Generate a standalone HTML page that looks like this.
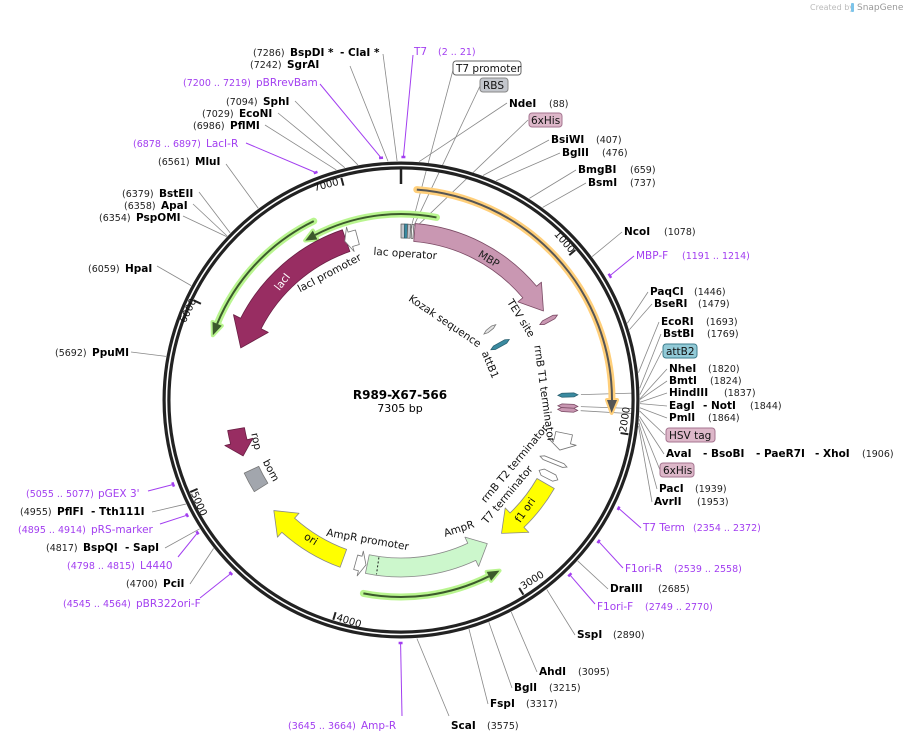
<!DOCTYPE html>
<html><head><meta charset="utf-8"><style>
html,body{margin:0;padding:0;background:#fff;}
svg{display:block;}
text{font-family:"DejaVu Sans","Liberation Sans",sans-serif;}
.b{font-weight:bold;font-size:10.5px;fill:#000;}
.n{font-size:9.5px;fill:#222;}
.p{font-size:10.5px;fill:#a23ef0;}
.pn{font-size:9.5px;fill:#a23ef0;}
.f{font-size:10.5px;fill:#111;}
.t{font-size:10px;fill:#111;}
</style></head><body>
<svg id="s" width="908" height="742" viewBox="0 0 908 742" xmlns="http://www.w3.org/2000/svg">
<g id="g"></g>
<text x="810" y="10" style="font-size:8px;fill:#bbb">Created by</text>
<rect x="851" y="3" width="3" height="9" rx="1" fill="#7cc4ea"/>
<text x="857" y="10" style="font-size:9px;fill:#999">SnapGene</text>

<text x="400" y="399" text-anchor="middle" style="font-weight:bold;font-size:12px">R989-X67-566</text>
<text x="400" y="412" text-anchor="middle" style="font-size:11px">7305 bp</text>

<text class="t" transform="translate(562,244) rotate(49)" text-anchor="middle">1000</text>
<text class="t" transform="translate(628,420) rotate(-81.5)" text-anchor="middle">2000</text>
<text class="t" transform="translate(534,583) rotate(-32)" text-anchor="middle">3000</text>
<text class="t" transform="translate(348,624) rotate(17)" text-anchor="middle">4000</text>
<text class="t" transform="translate(196,505) rotate(66)" text-anchor="middle">5000</text>
<text class="t" transform="translate(191,312) rotate(-64)" text-anchor="middle">6000</text>
<text class="t" transform="translate(327,188) rotate(-15)" text-anchor="middle">7000</text>

<text class="f" transform="translate(405,257) rotate(4)" text-anchor="middle">lac operator</text>
<text class="f" transform="translate(331,276) rotate(-28)" text-anchor="middle">lacI promoter</text>
<text class="f" transform="translate(487,262) rotate(31)" text-anchor="middle" style="fill:#222">MBP</text>
<text class="f" transform="translate(285,284) rotate(-52)" text-anchor="middle" style="fill:#fff">lacI</text>
<text class="f" transform="translate(518,320) rotate(58)" text-anchor="middle">TEV site</text>
<text class="f" transform="translate(443,324) rotate(34)" text-anchor="middle">Kozak sequence</text>
<text class="f" transform="translate(487,366) rotate(68)" text-anchor="middle">attB1</text>
<text class="f" transform="translate(541,394) rotate(82)" text-anchor="middle">rrnB T1 terminator</text>
<text class="f" transform="translate(517,466) rotate(-50)" text-anchor="middle">rrnB T2 terminator</text>
<text class="f" transform="translate(510,497) rotate(-50)" text-anchor="middle">T7 terminator</text>
<text class="f" transform="translate(528,512) rotate(-55)" text-anchor="middle">f1 ori</text>
<text class="f" transform="translate(460,532) rotate(-18)" text-anchor="middle">AmpR</text>
<text class="f" transform="translate(367,543) rotate(10)" text-anchor="middle">AmpR promoter</text>
<text class="f" transform="translate(309,542) rotate(32)" text-anchor="middle">ori</text>
<text class="f" transform="translate(253,442) rotate(78)" text-anchor="middle">rop</text>
<text class="f" transform="translate(268,472) rotate(62)" text-anchor="middle">bom</text>

<text x="414" y="55" class="p">T7</text><text x="438" y="55" class="pn">(2 .. 21)</text>
<rect x="453" y="61" width="68" height="14" rx="3" fill="#fff" stroke="#666"/>
<text x="456" y="72" class="f">T7 promoter</text>
<rect x="480" y="78" width="28" height="14" rx="3" fill="#c3c6cc" stroke="#888"/>
<text x="483" y="89" class="f">RBS</text>
<text x="509" y="107" class="b">NdeI</text><text x="549" y="107" class="n">(88)</text>
<rect x="529" y="113" width="33" height="14" rx="3" fill="#ddb7c9" stroke="#a57590"/>
<text x="531" y="124" class="f">6xHis</text>
<text x="551" y="143" class="b">BsiWI</text><text x="596" y="143" class="n">(407)</text>
<text x="562" y="156" class="b">BglII</text><text x="602" y="156" class="n">(476)</text>
<text x="578" y="173" class="b">BmgBI</text><text x="630" y="173" class="n">(659)</text>
<text x="588" y="186" class="b">BsmI</text><text x="630" y="186" class="n">(737)</text>
<text x="624" y="235" class="b">NcoI</text><text x="664" y="235" class="n">(1078)</text>
<text x="636" y="259" class="p">MBP-F</text><text x="682" y="259" class="pn">(1191 .. 1214)</text>
<text x="650" y="295" class="b">PaqCI</text><text x="694" y="295" class="n">(1446)</text>
<text x="654" y="307" class="b">BseRI</text><text x="698" y="307" class="n">(1479)</text>
<text x="661" y="325" class="b">EcoRI</text><text x="706" y="325" class="n">(1693)</text>
<text x="663" y="337" class="b">BstBI</text><text x="707" y="337" class="n">(1769)</text>
<rect x="663" y="344" width="34" height="14" rx="3" fill="#92cad7" stroke="#3d7d8d"/>
<text x="666" y="355" class="f">attB2</text>
<text x="669" y="372" class="b">NheI</text><text x="708" y="372" class="n">(1820)</text>
<text x="669" y="384" class="b">BmtI</text><text x="710" y="384" class="n">(1824)</text>
<text x="669" y="396" class="b">HindIII</text><text x="724" y="396" class="n">(1837)</text>
<text x="669" y="409" class="b">EagI</text><text x="703" y="409" class="b">- NotI</text><text x="750" y="409" class="n">(1844)</text>
<text x="669" y="421" class="b">PmlI</text><text x="708" y="421" class="n">(1864)</text>
<rect x="666" y="428" width="49" height="14" rx="3" fill="#ddb7c9" stroke="#a57590"/>
<text x="669" y="439" class="f">HSV tag</text>
<text x="666" y="457" class="b">AvaI</text><text x="703" y="457" class="b">- BsoBI</text><text x="756" y="457" class="b">- PaeR7I</text><text x="815" y="457" class="b">- XhoI</text><text x="862" y="457" class="n">(1906)</text>
<rect x="660" y="463" width="34" height="14" rx="3" fill="#ddb7c9" stroke="#a57590"/>
<text x="663" y="474" class="f">6xHis</text>
<text x="659" y="492" class="b">PacI</text><text x="695" y="492" class="n">(1939)</text>
<text x="654" y="505" class="b">AvrII</text><text x="697" y="505" class="n">(1953)</text>
<text x="643" y="531" class="p">T7 Term</text><text x="693" y="531" class="pn">(2354 .. 2372)</text>
<text x="625" y="572" class="p">F1ori-R</text><text x="674" y="572" class="pn">(2539 .. 2558)</text>
<text x="610" y="592" class="b">DraIII</text><text x="658" y="592" class="n">(2685)</text>
<text x="597" y="610" class="p">F1ori-F</text><text x="645" y="610" class="pn">(2749 .. 2770)</text>
<text x="577" y="638" class="b">SspI</text><text x="613" y="638" class="n">(2890)</text>
<text x="539" y="675" class="b">AhdI</text><text x="578" y="675" class="n">(3095)</text>
<text x="514" y="691" class="b">BglI</text><text x="549" y="691" class="n">(3215)</text>
<text x="490" y="707" class="b">FspI</text><text x="526" y="707" class="n">(3317)</text>
<text x="451" y="729" class="b">ScaI</text><text x="487" y="729" class="n">(3575)</text>
<text x="288" y="729" class="pn">(3645 .. 3664)</text><text x="361" y="729" class="p">Amp-R</text>

<text x="253" y="56" class="n">(7286)</text><text x="290" y="56" class="b">BspDI *</text><text x="340" y="56" class="b">- ClaI *</text>
<text x="250" y="68" class="n">(7242)</text><text x="287" y="68" class="b">SgrAI</text>
<text x="183" y="86" class="pn">(7200 .. 7219)</text><text x="256" y="86" class="p">pBRrevBam</text>
<text x="226" y="105" class="n">(7094)</text><text x="263" y="105" class="b">SphI</text>
<text x="202" y="117" class="n">(7029)</text><text x="239" y="117" class="b">EcoNI</text>
<text x="193" y="129" class="n">(6986)</text><text x="230" y="129" class="b">PflMI</text>
<text x="133" y="147" class="pn">(6878 .. 6897)</text><text x="206" y="147" class="p">LacI-R</text>
<text x="158" y="165" class="n">(6561)</text><text x="195" y="165" class="b">MluI</text>
<text x="122" y="197" class="n">(6379)</text><text x="159" y="197" class="b">BstEII</text>
<text x="124" y="209" class="n">(6358)</text><text x="161" y="209" class="b">ApaI</text>
<text x="99" y="221" class="n">(6354)</text><text x="136" y="221" class="b">PspOMI</text>
<text x="88" y="272" class="n">(6059)</text><text x="125" y="272" class="b">HpaI</text>
<text x="55" y="356" class="n">(5692)</text><text x="92" y="356" class="b">PpuMI</text>
<text x="26" y="497" class="pn">(5055 .. 5077)</text><text x="98" y="497" class="p">pGEX 3'</text>
<text x="20" y="515" class="n">(4955)</text><text x="57" y="515" class="b">PflFI</text><text x="91" y="515" class="b">- Tth111I</text>
<text x="18" y="533" class="pn">(4895 .. 4914)</text><text x="91" y="533" class="p">pRS-marker</text>
<text x="46" y="551" class="n">(4817)</text><text x="83" y="551" class="b">BspQI</text><text x="125" y="551" class="b">- SapI</text>
<text x="67" y="569" class="pn">(4798 .. 4815)</text><text x="140" y="569" class="p">L4440</text>
<text x="126" y="587" class="n">(4700)</text><text x="163" y="587" class="b">PciI</text>
<text x="63" y="607" class="pn">(4545 .. 4564)</text><text x="136" y="607" class="p">pBR322ori-F</text>
</svg>
<script>
(function(){
var cx=401,cy=400,NS="http://www.w3.org/2000/svg",g=document.getElementById("g");
function P(a,r){var t=a*Math.PI/180;return [cx+r*Math.sin(t),cy-r*Math.cos(t)];}
function B(b){return b/7305*360;}
function el(n,at){var e=document.createElementNS(NS,n);for(var k in at)e.setAttribute(k,at[k]);g.appendChild(e);return e;}
function arc(a1,a2,r){var p=P(a2,r),la=Math.abs(a2-a1)>180?1:0,sw=a2>a1?1:0;return "A"+r+" "+r+" 0 "+la+" "+sw+" "+p[0].toFixed(2)+" "+p[1].toFixed(2);}
function M(a,r){var p=P(a,r);return "M"+p[0].toFixed(2)+" "+p[1].toFixed(2);}
function L(a,r){var p=P(a,r);return "L"+p[0].toFixed(2)+" "+p[1].toFixed(2);}
function band(a1,a2,r1,r2,head,fill,stroke,sw){
 var d=a2>a1?1:-1,ah=a2-d*head,rm=(r1+r2)/2,hw=(r2-r1)*0.35,s;
 if(head>0){s=M(a1,r2)+arc(a1,ah,r2)+L(ah,r2+hw)+L(a2,rm)+L(ah,r1-hw)+L(ah,r1)+arc(ah,a1,r1)+"Z";}
 else{s=M(a1,r2)+arc(a1,a2,r2)+L(a2,r1)+arc(a2,a1,r1)+"Z";}
 el("path",{d:s,fill:fill,stroke:stroke||"#777","stroke-width":sw||0.8,"stroke-linejoin":"round"});}
function sliver(a,r1,r2,w,fill,stroke){
 var t=a*Math.PI/180,ux=Math.sin(t),uy=-Math.cos(t),vx=-uy,vy=ux,h=w/2;
 function pt(r,o){return (cx+r*ux+o*vx).toFixed(2)+","+(cy+r*uy+o*vy).toFixed(2);}
 var pts=[pt(r1,0),pt(r1+4,h),pt(r2-4,h),pt(r2,0),pt(r2-4,-h),pt(r1+4,-h)].join(" ");
 el("polygon",{points:pts,fill:fill,stroke:stroke||"#555","stroke-width":0.8});}
function larrow(a1,a2,r,head,glow,col){
 var d=a2>a1?1:-1,ah=a2-d*head;
 var s=M(a1,r)+arc(a1,ah,r);
 var tri=M(ah,r+5)+L(a2,r)+L(ah,r-5)+"Z";
 el("path",{d:s,fill:"none",stroke:glow,"stroke-width":7,"stroke-linecap":"round"});
 el("path",{d:tri,fill:glow,stroke:glow,"stroke-width":4,"stroke-linejoin":"round"});
 el("path",{d:s,fill:"none",stroke:col,"stroke-width":2});
 el("path",{d:tri,fill:col});}
function ln(x1,y1,x2,y2,c,w){el("line",{x1:x1,y1:y1,x2:x2,y2:y2,stroke:c,"stroke-width":w||0.8});}

var S=[[88,507,103],[407,549,140],[476,560,153],[659,576,170],[737,586,183],[1078,622,232],[1446,648,292],[1479,652,304],[1693,659,322],[1769,661,334],[1800,662,351],[1820,667,369],[1824,667,381],[1837,667,393],[1844,667,406],[1864,667,418],[1880,665,435],[1906,664,454],[1920,660,470],[1939,657,489],[1953,652,502],[2685,608,589],[2890,575,635],[3095,537,672],[3215,512,688],[3317,488,704],[3575,449,716],
[4700,190,584],[4817,165,548],[4955,152,512],[5692,131,352],[6059,157,266],[6354,183,216],[6358,193,204],[6379,199,192],[6561,226,164],[6986,265,125],[7029,278,113],[7094,295,101],[7242,350,66],[7286,383,54]];
S.forEach(function(s){var p=P(B(s[0]),239);ln(p[0],p[1],s[1],s[2],"#888",0.8);});
[[ -0.2,453,70,165],[0.6,480,86,170],[1.5,528,120,172]].forEach(function(s){var p=P(s[0]+3,s[3]);ln(p[0],p[1],s[1],s[2],"#888",0.8);});
[88.3,92.1,93.4].forEach(function(a){var p1=P(a,180),p2=P(a,232);ln(p1[0],p1[1],p2[0],p2[1],"#888",0.8);});
var Pr=[[2,21,413,55],[1191,1214,634,256],[2354,2372,641,528],[2539,2558,623,568],[2749,2770,595,604],[3645,3664,402,716],[4545,4564,200,598],[4798,4815,178,557],[4895,4914,160,524],[5055,5077,148,491],[6878,6897,246,143],[7200,7219,320,84]];
Pr.forEach(function(s){var a1=B(s[0]),a2=B(s[1]),am=(a1+a2)/2;var p=P(am,243);ln(p[0],p[1],s[2],s[3],"#a23ef0",1);
 el("path",{d:M(a1,243)+arc(a1,a2,243),fill:"none",stroke:"#a23ef0","stroke-width":2.5});});

el("circle",{cx:cx,cy:cy,r:234.5,fill:"none",stroke:"#222","stroke-width":8});
el("circle",{cx:cx,cy:cy,r:234.5,fill:"none",stroke:"#fff","stroke-width":1.6});
for(var k=1;k<=7;k++){var a=B(k*1000);var p1=P(a,230),p2=P(a,222);ln(p1[0],p1[1],p2[0],p2[1],"#222",2);}
var q1=P(0,231),q2=P(0,216);ln(q1[0],q1[1],q2[0],q2[1],"#222",2.5);

larrow(4.3,93.5,211,3.5,"#ffcf7a","#555");
larrow(11,-31,186,3.5,"#b9f58f","#3c5a2c");
larrow(-26,-71,199,3.5,"#b9f58f","#3c5a2c");
larrow(191,150,197,3.5,"#b9f58f","#3c5a2c");

band(4.6,58,159,177,8,"#c997b2","#7a4a64");
band(-19,-72,157,180,9,"#982d62","#6a1f44");
band(-15,-19.5,161,176,2,"#fff","#777");
band(0,1.2,162,176,0,"#c3c6cc","#666");
band(1.2,2.2,162,176,0,"#3a8aa0","#2a6070");
band(2.2,3.2,162,176,0,"#c3c6cc","#666");
band(3.6,4.2,162,176,0,"#fff","#666");
sliver(61.5,158,178,4,"#c997b2","#7a4a64");
sliver(51.5,106,121,3,"#e4e4e4","#777");
sliver(60.8,103,124,4,"#3a8aa0","#2a6070");
sliver(88.3,157,177,4,"#3a8aa0","#2a6070");
sliver(92.1,157,177,4,"#c997b2","#7a4a64");
sliver(93.4,157,177,4,"#c997b2","#7a4a64");
band(101.5,107.5,158,175,3,"#fff","#777");
sliver(112,150,179,4,"#fff","#777");
sliver(117,155,176,7,"#fff","#777");
band(120,143,157,177,7,"#ffff00","#888");
band(191.6,149,158,177,6,"#ccf7cc","#888");
var d1=P(188,159),d2=P(188,176);el("line",{x1:d1[0],y1:d1[1],x2:d2[0],y2:d2[1],stroke:"#222","stroke-width":1,"stroke-dasharray":"2,2"});
band(195.6,192,161,176,2,"#fff","#777");
band(200,229,159,178,7,"#ffff00","#888");
band(260,250.5,159,176,5,"#982d62","#6a1f44");
band(238,245,157,173,0,"#a2a6ad","#777");
})();
</script>
</body></html>
